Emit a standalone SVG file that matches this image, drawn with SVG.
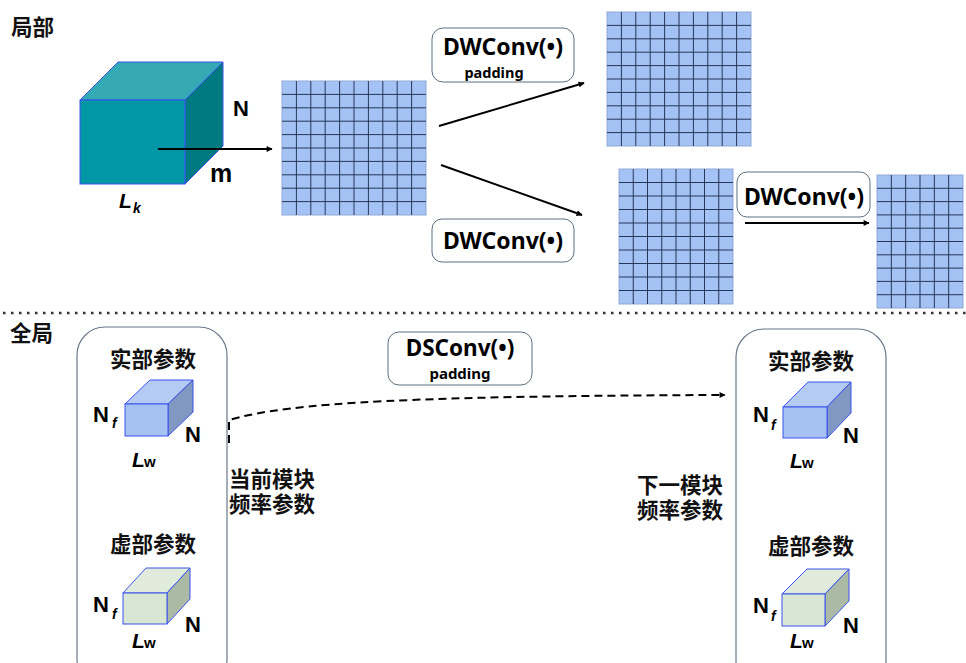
<svg xmlns="http://www.w3.org/2000/svg" width="966" height="663" viewBox="0 0 966 663">
<defs>
<marker id="ah" viewBox="0 0 10 10" refX="9" refY="5" markerWidth="8" markerHeight="6" markerUnits="userSpaceOnUse" orient="auto"><path d="M0,0 L10,5 L0,10 z" fill="#000"/></marker>
<style>
.cjk{font-family:"Noto Sans CJK SC","Noto Sans",sans-serif;font-weight:700;font-size:21.5px;fill:#111}
.lat{font-family:"Liberation Sans",Arial,sans-serif;font-weight:700;fill:#000}
.it{font-style:italic}
.op{font-family:"Noto Sans","Open Sans",sans-serif;font-weight:700;fill:#000}
.box{fill:#fff;stroke:#5f6f80;stroke-width:1}
.cont{fill:none;stroke:#6a7888;stroke-width:1.2}
.gfill{fill:#a4c2f4;stroke:#8fa9d8;stroke-width:1}
.gline{stroke:#25375a;stroke-width:1;fill:none}
.edge{stroke:#3a52ee;stroke-width:1}
.conn{stroke:#000;stroke-width:2;fill:none}
</style>
</defs>
<rect width="966" height="663" fill="#fff"/>

<text class="cjk" x="11" y="35" font-size="20">局部</text>
<text class="cjk" x="10" y="341" font-size="20">全局</text>

<line x1="3" y1="313" x2="966" y2="313" stroke="#333" stroke-width="2.5" stroke-dasharray="2.5 5.5"/>

<g id="cube-lk">
<polygon class="edge" points="80,100 118,62 223,62 185,100" fill="#35aab5"/>
<polygon class="edge" points="185,100 223,62 223,146 185,184" fill="#007a80"/>
<rect class="edge" x="80" y="100" width="105" height="84" fill="#0297a6"/>
<text class="lat" x="233" y="116" font-size="22">N</text>
<text class="lat" x="210" y="182" font-size="25">m</text>
<text class="lat it" x="119" y="208" font-size="21">L</text>
<text class="lat it" x="133" y="213" font-size="14">k</text>
</g>

<g id="grid-a">
<rect class="gfill" x="282" y="81" width="144" height="134"/>
<path class="gline" d="M296.4,81V215M310.8,81V215M325.2,81V215M339.6,81V215M354,81V215M368.4,81V215M382.8,81V215M397.2,81V215M411.6,81V215M282,94.4H426M282,107.8H426M282,121.2H426M282,134.6H426M282,148H426M282,161.4H426M282,174.8H426M282,188.2H426M282,201.6H426"/>
</g>

<g id="grid-b">
<rect class="gfill" x="607" y="12" width="144" height="134"/>
<path class="gline" d="M621.4,12V146M635.8,12V146M650.2,12V146M664.6,12V146M679,12V146M693.4,12V146M707.8,12V146M722.2,12V146M736.6,12V146M607,25.4H751M607,38.8H751M607,52.2H751M607,65.6H751M607,79H751M607,92.4H751M607,105.8H751M607,119.2H751M607,132.6H751"/>
</g>

<g id="grid-c">
<rect class="gfill" x="619" y="169" width="114" height="135"/>
<path class="gline" d="M633.25,169V304M647.5,169V304M661.75,169V304M676,169V304M690.25,169V304M704.5,169V304M718.75,169V304M619,182.5H733M619,196H733M619,209.5H733M619,223H733M619,236.5H733M619,250H733M619,263.5H733M619,277H733M619,290.5H733"/>
</g>

<g id="grid-d">
<rect class="gfill" x="877" y="175" width="86" height="133"/>
<path class="gline" d="M891.33,175V308M905.67,175V308M920,175V308M934.33,175V308M948.67,175V308M877,188.3H963M877,201.6H963M877,214.9H963M877,228.2H963M877,241.5H963M877,254.8H963M877,268.1H963M877,281.4H963M877,294.7H963"/>
</g>

<g id="op-dw-top">
<rect class="box" x="432" y="28" width="142" height="54" rx="11"/>
<text class="op" x="503" y="55" font-size="23" text-anchor="middle">DWConv(•)</text>
<text class="op" x="494" y="78" font-size="14.5" text-anchor="middle">padding</text>
</g>

<g id="op-dw-bottom">
<rect class="box" x="432" y="219" width="142" height="43" rx="10"/>
<text class="op" x="503" y="249" font-size="23" text-anchor="middle">DWConv(•)</text>
</g>

<g id="op-dw-right">
<rect class="box" x="737" y="172" width="133" height="45" rx="10"/>
<text class="op" x="804" y="205" font-size="23" text-anchor="middle">DWConv(•)</text>
</g>

<g id="op-ds">
<rect class="box" x="388" y="332" width="144" height="53" rx="11"/>
<text class="op" x="460" y="356" font-size="22.5" text-anchor="middle">DSConv(•)</text>
<text class="op" x="460" y="379" font-size="15" text-anchor="middle">padding</text>
</g>

<g id="current-block">
<rect class="cont" x="77" y="327" width="150" height="360" rx="28"/>
<text class="cjk" x="153" y="367" text-anchor="middle">实部参数</text>
<polygon class="edge" points="125,404 150,380 193,380 168,404" fill="#b5cbf4"/>
<polygon class="edge" points="168,404 193,380 193,412 168,436" fill="#8198c2"/>
<rect class="edge" x="125" y="404" width="43" height="32" fill="#a5c2f3"/>
<text class="lat" x="93" y="422" font-size="22">N</text>
<text class="lat it" x="112" y="428" font-size="14">f</text>
<text class="lat" x="185" y="442" font-size="22">N</text>
<text class="lat it" x="132" y="467" font-size="21">L</text>
<text class="lat" x="144" y="467" font-size="15" font-weight="400">w</text>
<text class="cjk" x="153" y="552" text-anchor="middle">虚部参数</text>
<polygon class="edge" points="123,593 146,568 190,568 167,593" fill="#e1ebdb"/>
<polygon class="edge" points="167,593 190,568 190,599 167,624" fill="#abbaa5"/>
<rect class="edge" x="123" y="593" width="44" height="31" fill="#d9e6d4"/>
<text class="lat" x="93" y="612" font-size="22">N</text>
<text class="lat it" x="112" y="619" font-size="14">f</text>
<text class="lat" x="185" y="632" font-size="22">N</text>
<text class="lat it" x="132" y="648" font-size="21">L</text>
<text class="lat" x="144" y="648" font-size="15" font-weight="400">w</text>
</g>

<g id="current-label">
<text class="cjk" x="229" y="487">当前模块</text>
<text class="cjk" x="229" y="512">频率参数</text>
</g>

<g id="next-block">
<rect class="cont" x="736" y="329" width="150" height="360" rx="28"/>
<text class="cjk" x="811" y="369" text-anchor="middle">实部参数</text>
<polygon class="edge" points="783,407 808,382 851,382 827,407" fill="#b5cbf4"/>
<polygon class="edge" points="827,407 851,382 851,413 827,438" fill="#8198c2"/>
<rect class="edge" x="783" y="407" width="44" height="31" fill="#a5c2f3"/>
<text class="lat" x="753" y="422" font-size="22">N</text>
<text class="lat it" x="771" y="430" font-size="14">f</text>
<text class="lat" x="843" y="443" font-size="22">N</text>
<text class="lat it" x="790" y="468" font-size="21">L</text>
<text class="lat" x="802" y="468" font-size="15" font-weight="400">w</text>
<text class="cjk" x="811" y="554" text-anchor="middle">虚部参数</text>
<polygon class="edge" points="782,594 807,569 849,569 825,594" fill="#e1ebdb"/>
<polygon class="edge" points="825,594 849,569 849,601 825,626" fill="#abbaa5"/>
<rect class="edge" x="782" y="594" width="43" height="32" fill="#d9e6d4"/>
<text class="lat" x="753" y="613" font-size="22">N</text>
<text class="lat it" x="771" y="621" font-size="14">f</text>
<text class="lat" x="843" y="633" font-size="22">N</text>
<text class="lat it" x="790" y="648" font-size="21">L</text>
<text class="lat" x="802" y="648" font-size="15" font-weight="400">w</text>
</g>

<g id="next-label">
<text class="cjk" x="637" y="493">下一模块</text>
<text class="cjk" x="637" y="518">频率参数</text>
</g>

<g id="connectors">
<line class="conn" x1="158" y1="149" x2="272" y2="149" marker-end="url(#ah)"/>
<line class="conn" x1="439" y1="126" x2="584" y2="83" marker-end="url(#ah)"/>
<line class="conn" x1="441" y1="165" x2="582" y2="215" marker-end="url(#ah)"/>
<line class="conn" x1="745" y1="223" x2="869" y2="223" marker-end="url(#ah)"/>
<path class="conn" d="M229,443 L229,420 C290,402 420,396 725,395" stroke-dasharray="8 5" marker-end="url(#ah)"/>
</g>
</svg>
